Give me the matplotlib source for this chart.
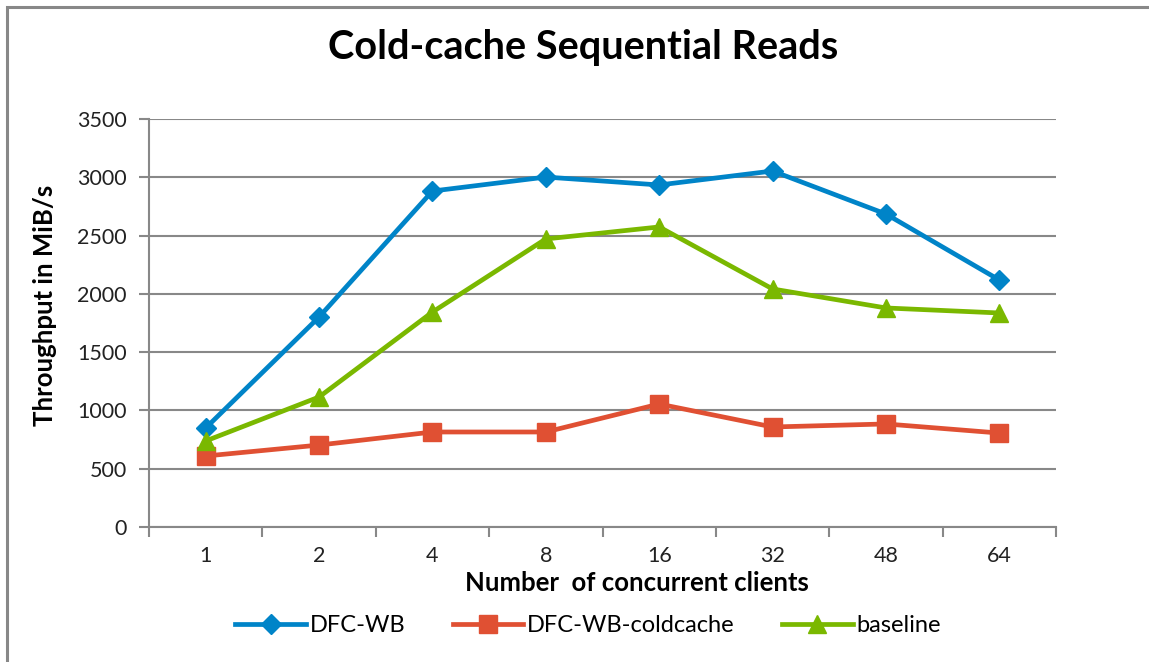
import matplotlib
matplotlib.use("Agg")
import matplotlib.pyplot as plt
from matplotlib.patches import Rectangle

categories = ["1", "2", "4", "8", "16", "32", "48", "64"]
dfc_wb = [849, 1801, 2882, 3002, 2934, 3054, 2685, 2119]
dfc_wb_coldcache = [609, 703, 815, 815, 1055, 858, 884, 806]
baseline = [738, 1115, 1844, 2471, 2574, 2042, 1879, 1836]
yticks = [0, 500, 1000, 1500, 2000, 2500, 3000, 3500]

plt.rcParams['font.family'] = ['Lato', 'DejaVu Sans']

fig = plt.figure(figsize=(11.49, 6.62), dpi=100)
ax = fig.add_axes([149/1149, 1 - 527/662, (1056-149)/1149, (527-119)/662])

x = list(range(len(categories)))
ax.plot(x, dfc_wb, color='#0084C8', lw=3.4, marker='D', ms=10, label='DFC-WB', zorder=3)
ax.plot(x, dfc_wb_coldcache, color='#E05033', lw=3.4, marker='s', ms=13, label='DFC-WB-coldcache', zorder=3)
ax.plot(x, baseline, color='#7AB800', lw=3.4, marker='^', ms=13, label='baseline', zorder=3)

ax.set_xlim(-0.5, len(categories) - 0.5)
ax.set_ylim(0, 3500)
ax.set_yticks(yticks)
ax.set_yticklabels([str(v) for v in yticks], fontsize=15.5, color='#222222')
ax.set_xticks(x)
ax.set_xticklabels(categories, fontsize=15.5, color='#222222')
ax.set_xticks([i - 0.5 for i in range(len(categories) + 1)], minor=True)
ax.tick_params(axis='x', which='major', length=0, pad=14)
ax.tick_params(axis='x', which='minor', length=7, width=1.5, color='#888888', direction='out')
ax.tick_params(axis='y', which='major', length=7, width=1.5, color='#888888', pad=9)
ax.grid(axis='y', color='#888888', lw=1.5)
ax.set_axisbelow(True)
for s in ['top', 'right']:
    ax.spines[s].set_visible(False)
for s in ['left', 'bottom']:
    ax.spines[s].set_color('#888888')
    ax.spines[s].set_linewidth(1.5)

ax.set_xlabel('Number  of concurrent clients', fontsize=18.5, fontweight='bold')
ax.xaxis.set_label_coords((637-149)/907, -(583-527)/408)
ax.xaxis.label.set_va('center')
ax.set_ylabel('Throughput in MiB/s', fontsize=18.5, fontweight='bold')
ax.yaxis.set_label_coords((45-149)/907, (527-305)/408)
ax.yaxis.label.set_va('center')

fig.text(583/1149, 1 - 47/662, 'Cold-cache Sequential Reads', fontsize=28.5, fontweight='bold',
         ha='center', va='center')

leg = fig.legend(loc='center', bbox_to_anchor=(588/1149, 1 - 626/662), ncol=3, frameon=False,
                 fontsize=17, handlelength=3.0, columnspacing=2.0, handletextpad=0.15)

fig.patches.append(Rectangle((7/1149, -0.1), 1.1, 1.1 - 7/662, transform=fig.transFigure,
                             fill=False, edgecolor='#888888', lw=2.2))

fig.savefig('out.png', dpi=100)
